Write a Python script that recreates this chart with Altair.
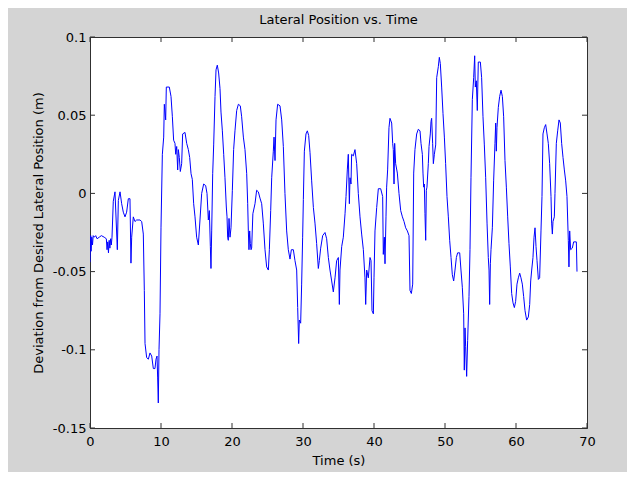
import altair as alt
import pandas as pd

TIME = [0.0, 0.1, 0.15, 0.25, 0.35, 0.45, 0.6, 0.8, 1.0, 1.3, 1.6, 2.0, 2.3, 2.4, 2.5, 2.6, 2.7, 2.8, 2.9, 3.0, 3.1,
        3.28, 3.52, 3.85, 3.99, 4.23, 4.46, 4.69, 4.93, 5.16, 5.4, 5.63, 5.77, 5.87, 6.1, 6.34, 6.57, 7.04, 7.28, 7.51,
        7.65, 7.75, 7.98, 8.22, 8.45, 8.69, 8.92, 9.15, 9.3, 9.44, 9.53, 9.62, 9.72, 9.86, 10.0, 10.19, 10.38, 10.47,
        10.66, 10.75, 11.17, 11.41, 11.6, 11.78, 11.97, 12.07, 12.21, 12.35, 12.44, 12.58, 12.72, 12.91, 13.05, 13.38,
        13.62, 13.85, 14.04, 14.23, 14.41, 14.6, 14.79, 15.02, 15.26, 15.49, 15.73, 16.01, 16.29, 16.48, 16.67, 16.81,
        16.95, 17.04, 17.14, 17.28, 17.42, 17.61, 17.75, 17.93, 18.12, 18.31, 18.45, 18.64, 18.83, 19.01, 19.2, 19.3,
        19.39, 19.48, 19.58, 19.72, 19.86, 20.05, 20.23, 20.42, 20.66, 20.9, 21.17, 21.36, 21.6, 21.83, 22.07, 22.21,
        22.3, 22.39, 22.49, 22.58, 22.68, 22.77,
        22.94, 23.24, 23.47, 23.71, 23.94, 24.18, 24.41, 24.65, 24.88, 25.12, 25.26, 25.45, 25.59, 25.82, 25.92, 26.06,
        26.2, 26.43, 26.76, 27.0, 27.23, 27.46, 27.7, 27.93, 28.17, 28.36, 28.64, 28.87, 29.11, 29.25, 29.39, 29.48,
        29.67, 29.81, 29.95, 30.05, 30.19, 30.42, 30.61, 30.8, 30.99, 31.22, 31.46, 31.69, 31.92, 32.16, 32.3, 32.49,
        32.77, 33.1, 33.33, 33.57, 33.8, 34.04, 34.27, 34.51, 34.74, 34.98, 35.12, 35.21, 35.45, 35.68, 35.92, 36.06,
        36.24, 36.38, 36.53, 36.62, 36.76, 36.85, 37.09, 37.32, 37.56, 37.79, 38.03, 38.26, 38.5, 38.73, 38.83, 38.97,
        39.2, 39.44, 39.58, 39.72, 39.91, 40.0, 40.14, 40.38, 40.61, 40.94, 41.22, 41.31, 41.46, 41.55, 41.69, 41.78,
        41.92, 42.11, 42.25, 42.49, 42.63, 42.72, 42.82, 42.91, 43.05, 43.29, 43.52, 43.76, 44.0, 44.23, 44.46, 44.7,
        44.93, 45.07, 45.26, 45.45, 45.59, 45.77,
        46.01, 46.24, 46.48, 46.62, 46.81, 46.9, 47.0, 47.09, 47.18, 47.28, 47.37, 47.46, 47.65, 47.75, 47.93, 48.03,
        48.12, 48.26, 48.36, 48.5, 48.69, 48.83, 49.06, 49.2, 49.34, 49.53, 49.72, 49.91, 50.09, 50.28, 50.47, 50.66,
        50.85, 51.03, 51.22, 51.41, 51.6, 51.78, 52.07, 52.25, 52.44, 52.63, 52.72, 52.82, 52.91, 53.05, 53.19, 53.38,
        53.52, 53.66, 53.85, 54.04, 54.18, 54.27, 54.41, 54.55, 54.69, 54.98, 55.16, 55.35, 55.54, 55.73, 55.92, 56.1,
        56.2, 56.29, 56.39, 56.48, 56.67, 56.85, 57.04, 57.14, 57.23, 57.32, 57.51, 57.7, 57.89, 58.08, 58.26, 58.45,
        58.64, 58.83, 59.01, 59.2, 59.39, 59.58, 59.77, 59.95, 60.14, 60.33, 60.52, 60.7, 60.89, 61.08, 61.27, 61.5,
        61.74, 61.93, 62.07, 62.21, 62.39, 62.54, 62.68, 62.82, 62.96, 63.15, 63.33, 63.52, 63.66, 63.8, 63.99, 64.18,
        64.37, 64.55, 64.74, 64.93, 65.02, 65.12, 65.21, 65.4, 65.49, 65.68, 65.87, 66.06, 66.24, 66.43, 66.62, 66.81,
        67.0, 67.18, 67.37, 67.46, 67.56, 67.7, 67.93, 68.12, 68.5, 68.59]

DEV = [-0.044, -0.027, -0.037, -0.028, -0.033, -0.027, -0.028, -0.027, -0.029, -0.028, -0.027, -0.028, -0.029, -0.036,
       -0.031, -0.038, -0.030, -0.035, -0.029, -0.033, -0.028,
       -0.005, 0.001, -0.036, -0.0045, 0.001, -0.0066, -0.012, -0.015, -0.012, -0.0034, -0.0034, -0.0446, -0.028,
       -0.015, -0.018, -0.017, -0.017, -0.018, -0.026,
       -0.062, -0.096, -0.105, -0.106, -0.102, -0.104, -0.112, -0.112, -0.106, -0.104, -0.118, -0.134, -0.1, -0.077,
       -0.0216, 0.025, 0.036, 0.057,
       0.047, 0.068, 0.068, 0.062, 0.049, 0.034, 0.032, 0.025, 0.030, 0.015, 0.028, 0.023, 0.014, 0.019, 0.038, 0.039,
       0.032, 0.028, 0.023, 0.0126, 0.009, -0.0066, -0.015, -0.028, -0.033, -0.017, 0.0, 0.006, 0.005, 0.0, -0.017,
       -0.011,
       -0.034, -0.048, -0.024, 0.0126, 0.031, 0.062, 0.079, 0.082, 0.077, 0.067, 0.052, 0.040, 0.025, 0.010, -0.0087,
       -0.015,
       -0.028, -0.030, -0.016, -0.028, -0.022, 0.002, 0.028, 0.040, 0.053, 0.057, 0.056, 0.049, 0.036, 0.028, 0.0126,
       -0.0066,
       -0.024, -0.036, -0.024, -0.032, -0.036, -0.035,
       -0.013, -0.0066, 0.002, 0.001, -0.003, -0.0066, -0.019, -0.036, -0.047, -0.049, -0.036, -0.011, 0.010, 0.027,
       0.036, 0.021,
       0.047, 0.057, 0.056, 0.047, 0.030, 0.0, -0.024, -0.036, -0.042, -0.036, -0.036, -0.043, -0.049, -0.073, -0.096,
       -0.081,
       -0.083, -0.058, -0.028, -0.004, 0.027, 0.038, 0.040, 0.037, 0.026, 0.008, -0.009, -0.019, -0.032, -0.048,
       -0.043, -0.035,
       -0.027, -0.025, -0.029, -0.041, -0.049, -0.056, -0.063, -0.054, -0.043, -0.041, -0.071, -0.049, -0.034, -0.028,
       -0.013, -0.002,
       0.015, 0.025, -0.0066, 0.010, 0.006, 0.025, 0.024, 0.028, 0.019, 0.0, -0.015, -0.026, -0.036, -0.054, -0.071,
       -0.049,
       -0.054, -0.041, -0.043, -0.075, -0.077, -0.054, -0.024, -0.009, 0.003, 0.003, -0.002, -0.039, -0.028, -0.045,
       -0.015, 0.004,
       0.015, 0.042, 0.048, 0.045, 0.032, 0.028, 0.006, 0.032, 0.019, 0.013, 0.0, -0.011, -0.015, -0.018, -0.022,
       -0.024,
       -0.027, -0.062, -0.064, -0.058, 0.013, 0.028,
       0.038, 0.041, 0.040, 0.032, 0.025, 0.013, 0.004, 0.006, -0.013, -0.030, 0.002, 0.004, 0.019, 0.030, 0.038,
       0.046,
       0.048, 0.032, 0.019, 0.025, 0.031, 0.074, 0.081, 0.087, 0.083, 0.068, 0.051, 0.036, 0.019, -0.002, -0.015,
       -0.030,
       -0.041, -0.052, -0.056, -0.049, -0.041, -0.038, -0.038, -0.049, -0.060, -0.077, -0.113, -0.086, -0.098, -0.117,
       -0.094, -0.066,
       -0.036, 0.010, 0.060, 0.074, 0.088, 0.068, 0.072, 0.053, 0.084, 0.084, 0.074, 0.049, 0.031, 0.010, -0.019,
       -0.041,
       -0.049, -0.071, -0.045, -0.036, -0.022, 0.008, 0.032, 0.045, 0.027, 0.042, 0.055, 0.062, 0.066, 0.062, 0.049,
       0.021,
       0.004, -0.015, -0.032, -0.047, -0.064, -0.070, -0.073, -0.069, -0.058, -0.054, -0.051, -0.054, -0.058, -0.066,
       -0.075, -0.081,
       -0.079, -0.071, -0.056, -0.049, -0.041, -0.028, -0.022, -0.034, -0.043, -0.055, -0.054, -0.024, -0.002, 0.038,
       0.042, 0.044,
       0.038, 0.032, 0.019, -0.002, -0.019, -0.026, -0.018, -0.015, 0.0, 0.032, 0.040, 0.047, 0.045, 0.032, 0.023,
       0.015,
       0.008, -0.002, -0.030, -0.047, -0.024, -0.036, -0.035, -0.031, -0.031, -0.050]

X_TICKS = [0, 10, 20, 30, 40, 50, 60, 70]
Y_TICKS = [-0.15, -0.1, -0.05, 0, 0.05, 0.1]

TITLE = "Lateral Position vs. Time"
X_TITLE = "Time (s)"
Y_TITLE = "Deviation from Desired Lateral Position (m)"

W, H = 497, 391
AXC = "#303030"
FONT = "DejaVu Sans"
FS = 13

df = pd.DataFrame({"t": TIME, "v": DEV})
xt = pd.DataFrame({"t": X_TICKS})
yt = pd.DataFrame({"v": Y_TICKS})

xs = alt.Scale(domain=[0, 70], nice=False, zero=False)
ys = alt.Scale(domain=[-0.15, 0.1], nice=False, zero=False)

x_axis = alt.Axis(values=X_TICKS, title=X_TITLE, ticks=False, labelPadding=7, titlePadding=6,
                  labelFlush=False, labelOverlap=False)
y_axis = alt.Axis(values=Y_TICKS, title=Y_TITLE, ticks=False, labelPadding=4, titlePadding=7,
                  labelFlush=False, labelOverlap=False, labelExpr="datum.value + ''")


def xe():
    return alt.X("t:Q", scale=xs, axis=x_axis)


def ye():
    return alt.Y("v:Q", scale=ys, axis=y_axis)


line = alt.Chart(df).mark_line(color="#0000ff", strokeWidth=1, clip=True).encode(x=xe(), y=ye())

tb = alt.Chart(xt).mark_rule(color=AXC).encode(x=xe(), y=alt.value(H), y2=alt.value(H - 5))
tt = alt.Chart(xt).mark_rule(color=AXC).encode(x=xe(), y=alt.value(0), y2=alt.value(5))
tl = alt.Chart(yt).mark_rule(color=AXC).encode(y=ye(), x=alt.value(0), x2=alt.value(5))
tr = alt.Chart(yt).mark_rule(color=AXC).encode(y=ye(), x=alt.value(W), x2=alt.value(W - 5))

chart = alt.layer(line, tb, tt, tl, tr).properties(
    width=W, height=H,
    title=alt.TitleParams(TITLE, fontSize=FS, fontWeight="normal", font=FONT, color="black",
                          frame="group", offset=4),
    background="#d4d4d4",
    padding={"left": 82, "top": 29, "right": 40, "bottom": 44},
    autosize=alt.AutoSizeParams(type="none"),
).configure_view(
    stroke=AXC, strokeWidth=1, fill="white"
).configure_axis(
    grid=False, domainColor=AXC, labelFont=FONT, labelFontSize=FS, labelColor="black",
    titleFont=FONT, titleFontSize=FS, titleFontWeight="normal", titleColor="black",
)

chart.save("out.html", embed_options={"renderer": "svg", "actions": False})
